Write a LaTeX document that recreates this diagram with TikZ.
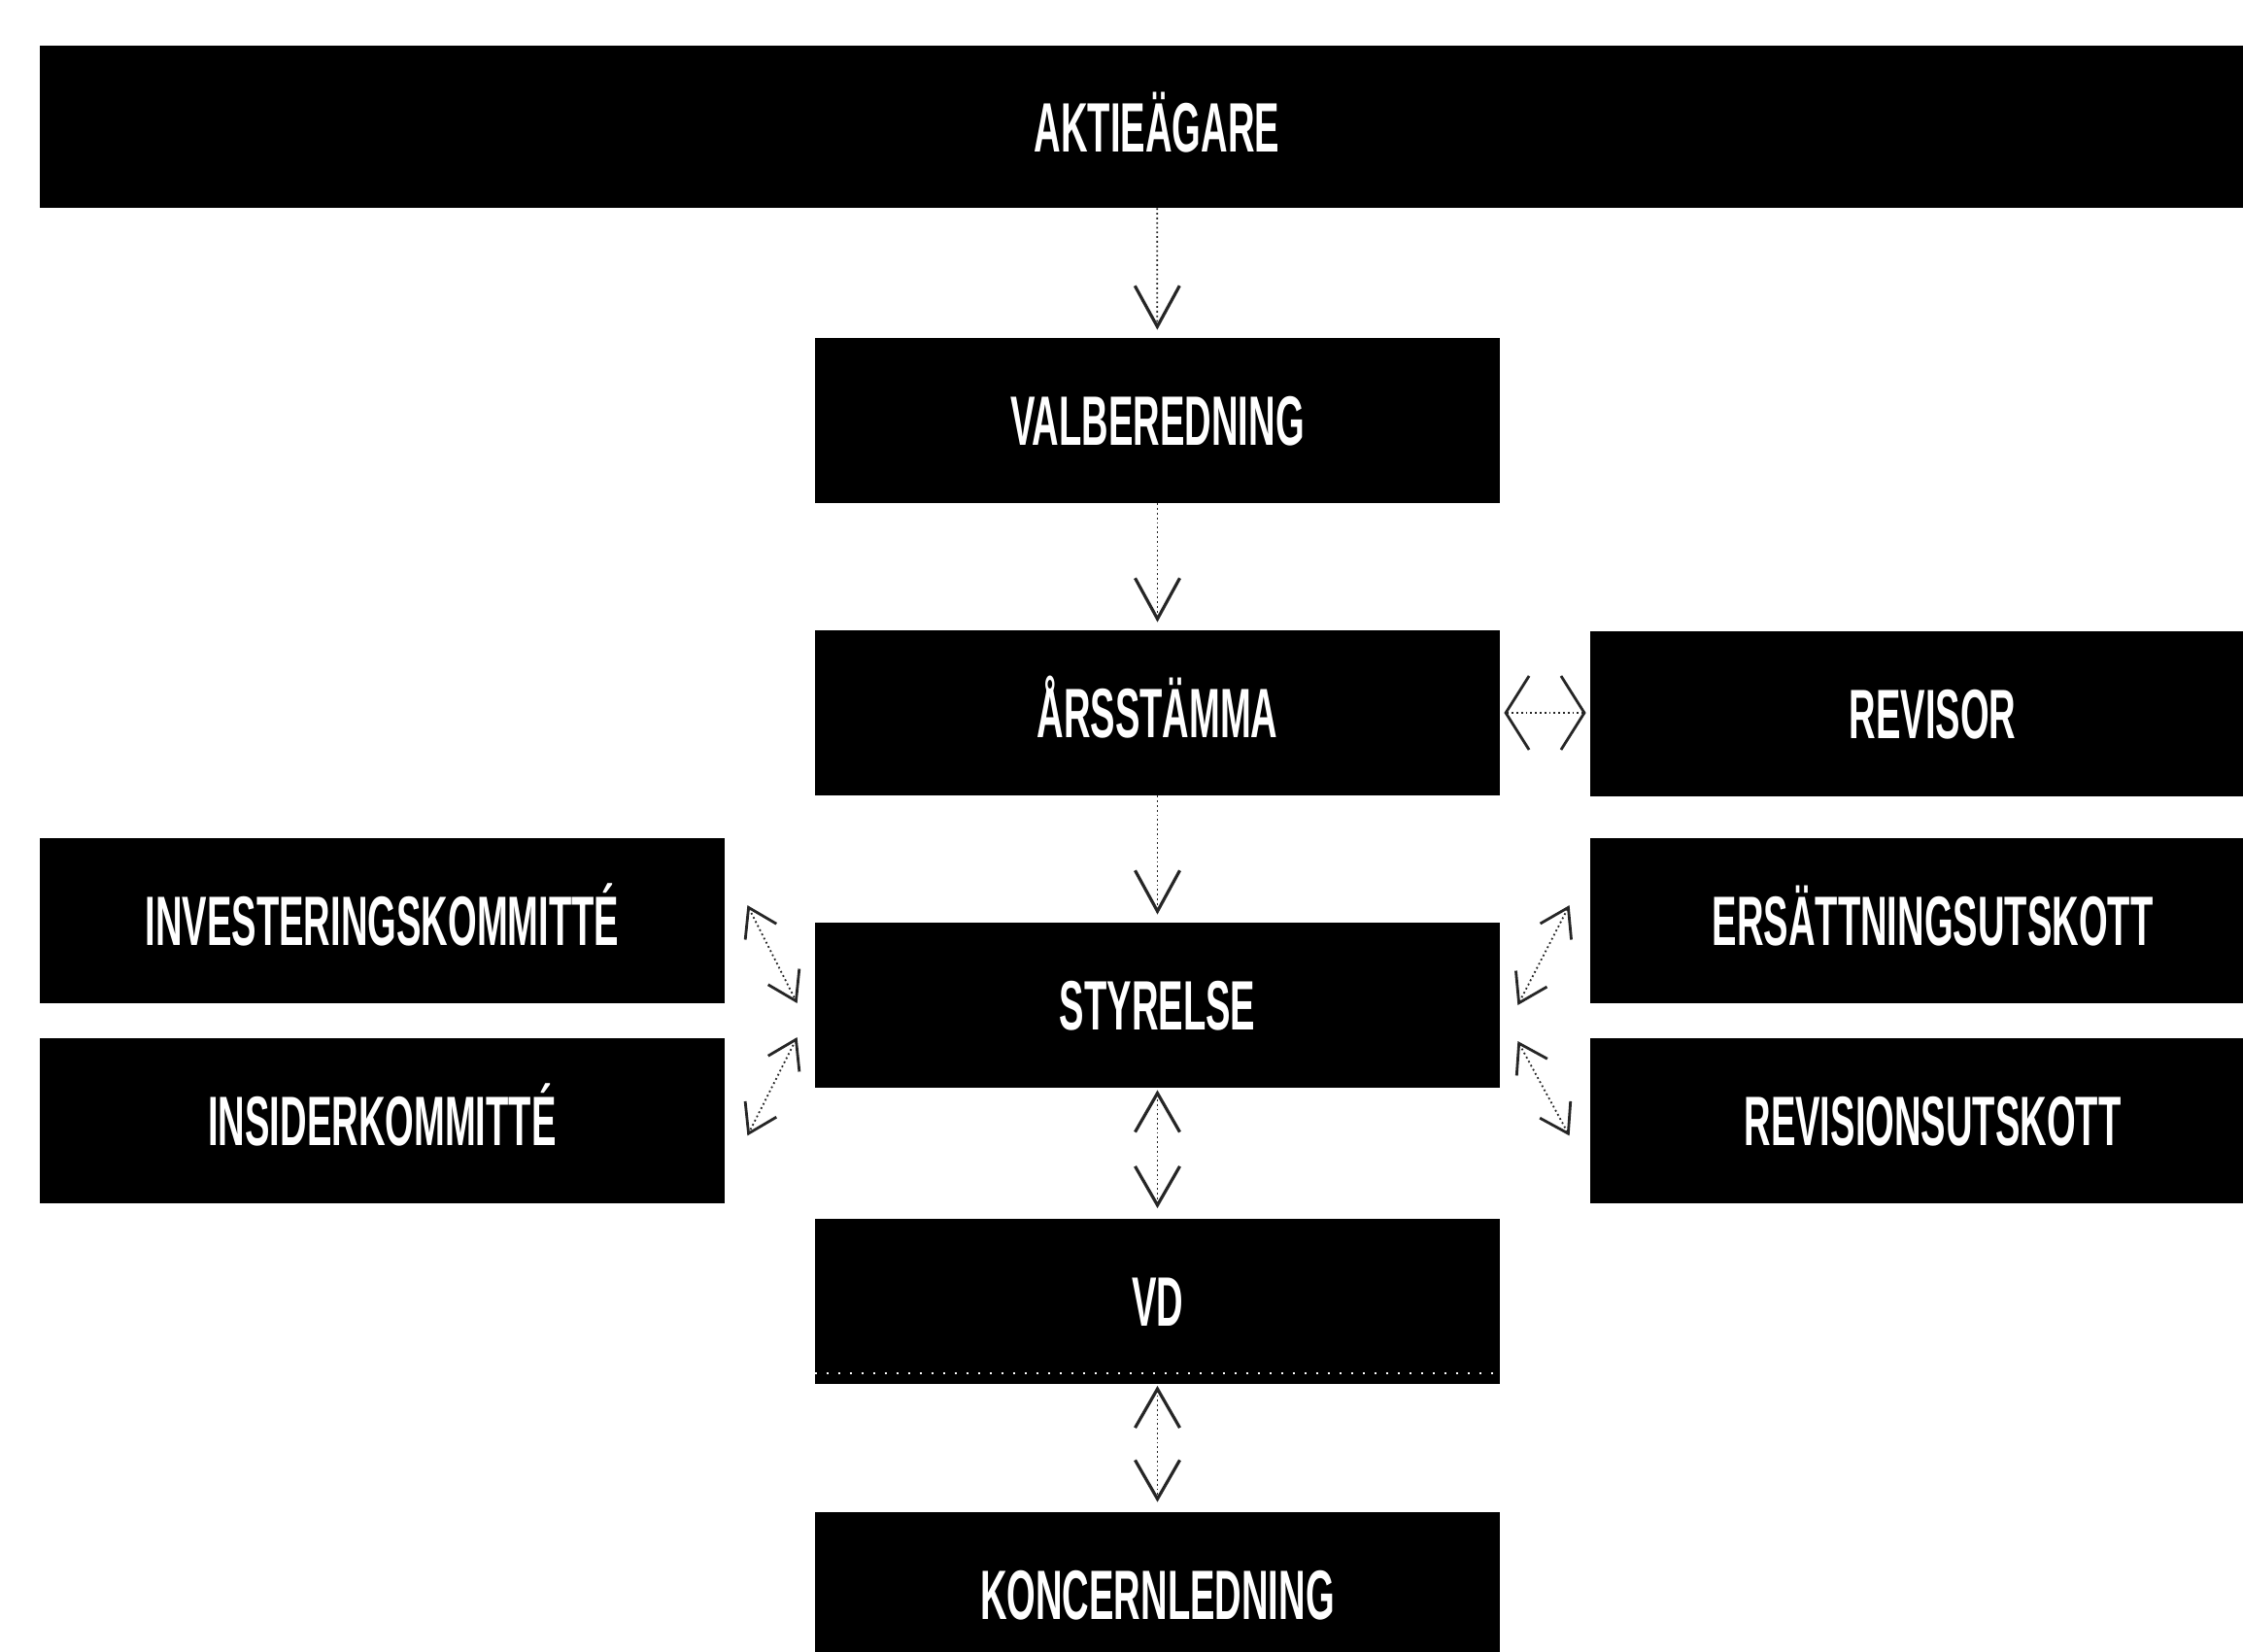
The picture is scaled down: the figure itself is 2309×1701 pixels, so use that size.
\documentclass[tikz,border=0pt]{standalone}
\usepackage{fontspec}
\usetikzlibrary{arrows.meta,calc}
\newfontfamily\boxfont[FakeStretch=0.53]{Liberation Sans Bold}
\tikzset{
  orgbox/.style={fill=black, draw=none, inner sep=0pt, text=white,
    font=\boxfont\fontsize{36}{40}\selectfont,
    text height=25.8pt, text depth=0pt, anchor=center,
    minimum width=352.5pt, minimum height=85pt},
  conn/.style={draw=black!85, line width=0.9pt, dash pattern=on 0.9pt off 1.5pt},
  vone/.style={conn, -{Straight Barb[length=21pt,width=23pt,line width=1.6pt]}, shorten >=4pt},
  vtwo/.style={conn, {Straight Barb[length=20pt,width=23pt,line width=1.6pt]}-{Straight Barb[length=20pt,width=23pt,line width=1.6pt]}, shorten >=5pt, shorten <=1pt},
  htwo/.style={conn, {Straight Barb[length=12pt,width=38pt,line width=1.4pt]}-{Straight Barb[length=12pt,width=38pt,line width=1.4pt]}, shorten >=2pt, shorten <=2pt},
  dtwo/.style={conn, {Straight Barb[length=14pt,width=18pt,line width=1.4pt]}-{Straight Barb[length=14pt,width=18pt,line width=1.4pt]}},
}
\begin{document}
\begin{tikzpicture}[x=0.5pt,y=-0.5pt]
\useasboundingbox (0,0) rectangle (2309,1701);
\clip (0,0) rectangle (2309,1701);
\fill[white] (0,0) rectangle (2309,1701);

% main column
\node[orgbox, minimum width=1150pt, minimum height=83.5pt] (akt) at (1191,130.5) {AKTIEÄGARE};
\node[orgbox] (val) at (1191.5,433) {VALBEREDNING};
\node[orgbox] (ars) at (1191.5,734) {ÅRSSTÄMMA};
\node[orgbox] (sty) at (1191.5,1035) {STYRELSE};
\node[orgbox] (vd)  at (1191.5,1339.5) {VD};
\node[orgbox] (kon) at (1191.5,1642) {KONCERNLEDNING};

% left column
\node[orgbox] (inv) at (393.5,947.5) {INVESTERINGSKOMMITTÉ};
\node[orgbox] (ins) at (393.5,1154) {INSIDERKOMMITTÉ};

% right column
\node[orgbox] (rev) at (1989.5,735) {REVISOR};
\node[orgbox] (ers) at (1989.5,947.5) {ERSÄTTNINGSUTSKOTT};
\node[orgbox] (rvu) at (1989.5,1154) {REVISIONSUTSKOTT};

% white dotted line inside VD box
\draw[white, line width=0.8pt, dash pattern=on 1pt off 5pt]
  ([shift={(0,-11)}]vd.south west) -- ([shift={(0,-11)}]vd.south east);

% vertical connectors
\draw[vone] (akt) -- (val);
\draw[vone] (val) -- (ars);
\draw[vone] (ars) -- (sty);
\draw[vtwo] (sty) -- (vd);
\draw[vtwo] (vd) -- (kon);

% horizontal
\draw[htwo] (ars.east) -- (ars.east -| rev.west);

% diagonal connector end points
\coordinate (lt1) at ([shift={(23,70)}]inv.north east);
\coordinate (lt2) at ([shift={(-18,-2)}]sty.west);
\coordinate (lb1) at ([shift={(-18,33)}]sty.west);
\coordinate (lb2) at ([shift={(23,-70)}]ins.south east);
\coordinate (rt1) at ([shift={(18,0)}]sty.east);
\coordinate (rt2) at ([shift={(-21,70)}]ers.north west);
\coordinate (rb1) at ([shift={(18,37)}]sty.east);
\coordinate (rb2) at ([shift={(-21,-70)}]rvu.south west);

\draw[dtwo] (lt1) -- (lt2);
\draw[dtwo] (lb1) -- (lb2);
\draw[dtwo] (rt1) -- (rt2);
\draw[dtwo] (rb1) -- (rb2);
\end{tikzpicture}
\end{document}
